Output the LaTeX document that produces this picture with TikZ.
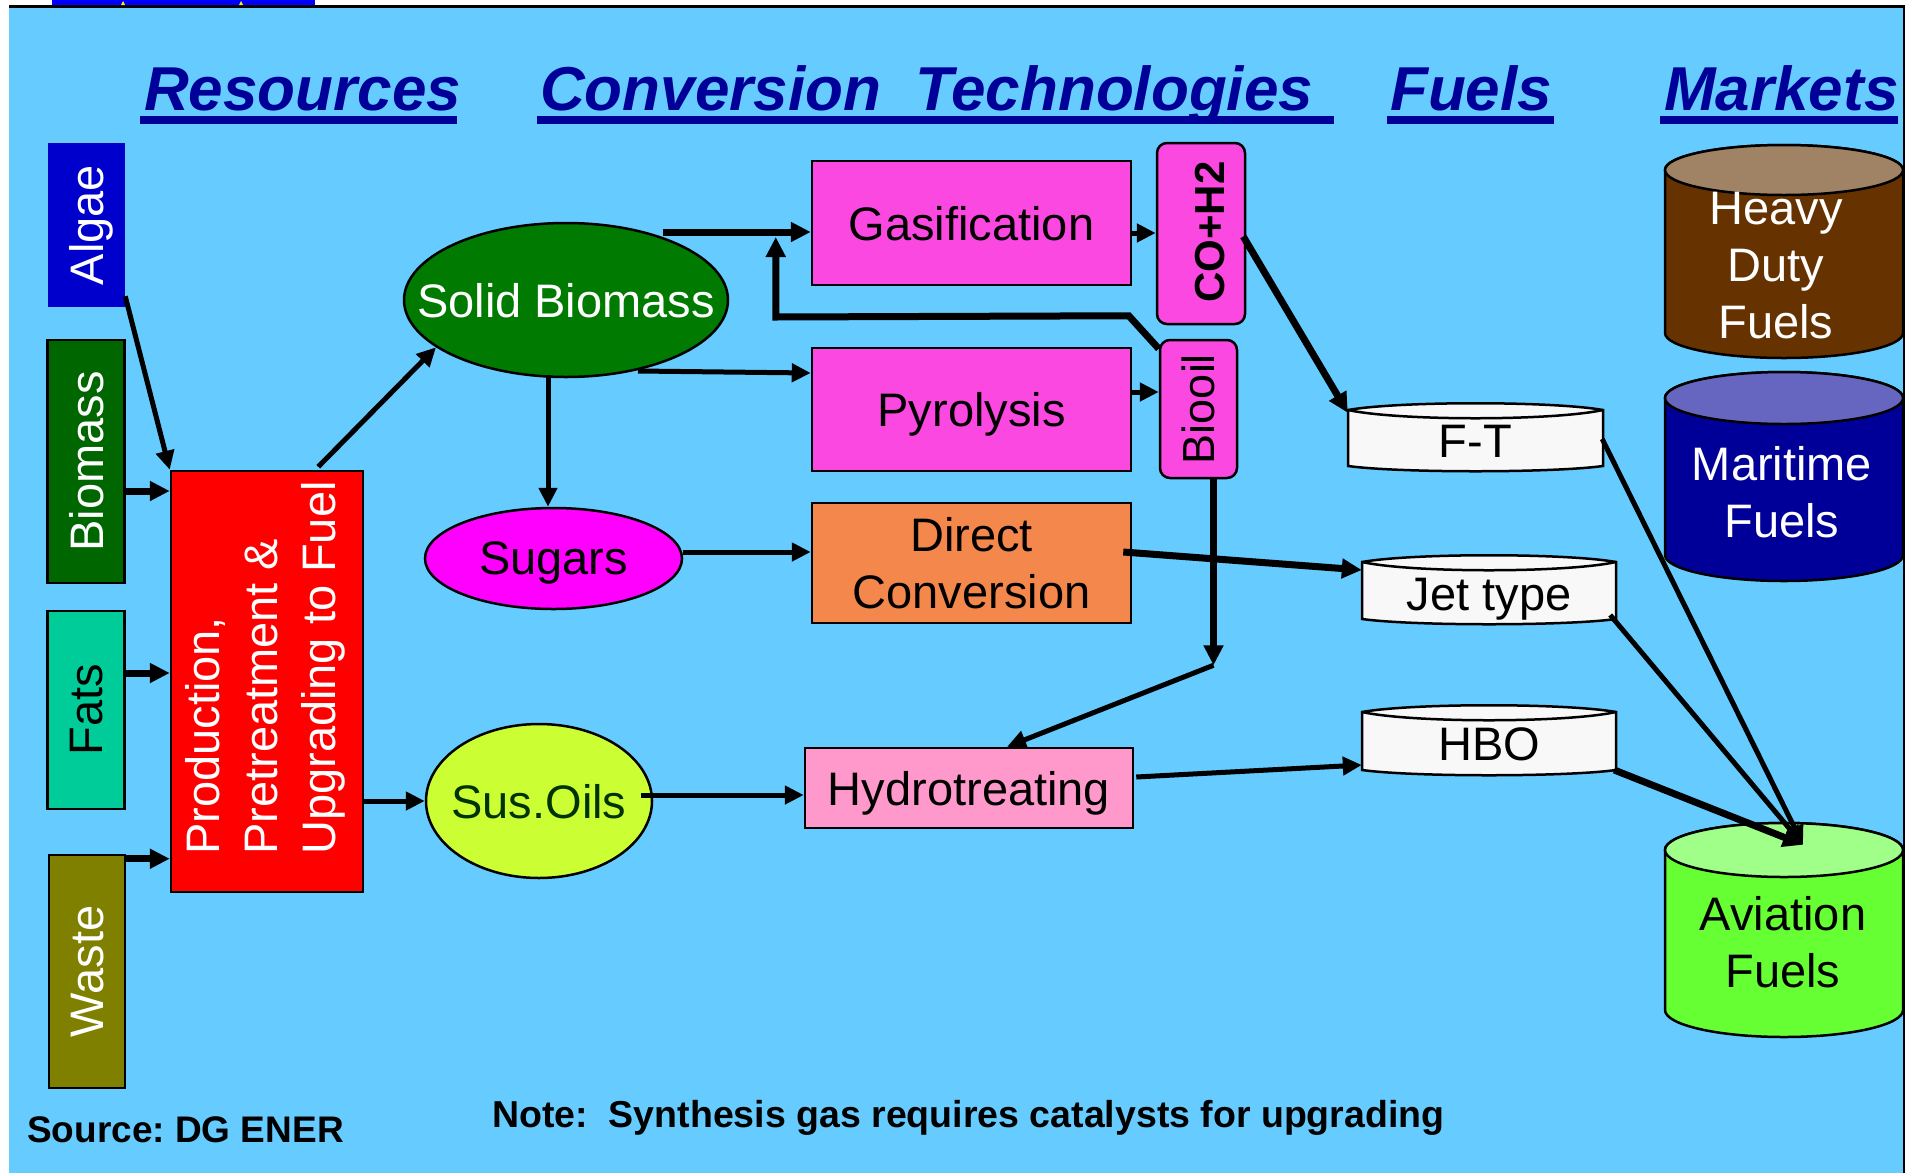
\documentclass[tikz,border=0pt]{standalone}
\usepackage{graphicx}
\usepackage{fontspec}
\setmainfont{Liberation Sans}
\usetikzlibrary{arrows.meta,shapes.geometric,calc}

\definecolor{bg}{HTML}{66CCFF}
\definecolor{hdr}{HTML}{000099}
\definecolor{algaec}{HTML}{0000CC}
\definecolor{biomc}{HTML}{006600}
\definecolor{fatsc}{HTML}{00CC99}
\definecolor{wastec}{HTML}{808000}
\definecolor{sbc}{HTML}{007A00}
\definecolor{sugc}{HTML}{FF00FF}
\definecolor{oilc}{HTML}{CCFF33}
\definecolor{oiltxt}{HTML}{003300}
\definecolor{techc}{HTML}{FA48E0}
\definecolor{dirc}{HTML}{F4874B}
\definecolor{hydc}{HTML}{FF99CC}
\definecolor{diskc}{HTML}{F8F8F8}
\definecolor{hvyb}{HTML}{663300}
\definecolor{hvyt}{HTML}{A08264}
\definecolor{marb}{HTML}{000099}
\definecolor{mart}{HTML}{6666C0}
\definecolor{avb}{HTML}{66FF33}
\definecolor{avt}{HTML}{A0FF88}

\newcommand\fsmain{\fontsize{47pt}{57pt}\selectfont}
\newcommand\nodepth[1]{\raisebox{0pt}[\height][0pt]{#1}}
\newcommand\nowidth[1]{\makebox[0pt]{#1}}

% fuel disk: name, x0, ytop, x1, ybot, text
\newcommand\fueldisk[6]{%
  \pgfmathsetmacro\fdw{#4-#2}
  \path[draw=black, line width=2.5pt, fill=diskc]
    (#2,{-(#3+8)}) .. controls ({#2+0.2*\fdw},{-(#3-1)}) and ({#4-0.2*\fdw},{-(#3-1)}) .. (#4,{-(#3+8)})
    -- (#4,{-(#5-5)}) .. controls ({#4-0.2*\fdw},{-(#5+2)}) and ({#2+0.2*\fdw},{-(#5+2)}) .. (#2,{-(#5-5)}) -- cycle;
  \draw[line width=2.5pt] (#2,{-(#3+8)}) .. controls ({#2+0.2*\fdw},{-(#3+19)}) and ({#4-0.2*\fdw},{-(#3+19)}) .. (#4,{-(#3+8)});
  \node[inner sep=0pt, minimum width=\fdw, minimum height={#5-#3}] (#1) at ({(#2+#4)/2},{-(#3+#5)/2}) {};
  \node[font=\fsmain, text depth=0pt, inner sep=0pt] (#1txt) at ({(#2+#4)/2},{-(#3+#5)/2-5}) {#6};
}

% cylinder: name, x0, x1, ytop, ybot, ry, body, top
\newcommand\fuelcyl[8]{%
  \pgfmathsetmacro\cyrx{(#3-#2)/2}
  \pgfmathsetmacro\cyxm{(#3+#2)/2}
  \path[draw=black, line width=2.5pt, fill=#7]
    (#2,{-(#4+#6)}) -- (#2,{-(#5-#6)})
    arc[start angle=180, end angle=360, x radius=\cyrx, y radius=#6]
    -- (#3,{-(#4+#6)})
    arc[start angle=0, end angle=180, x radius=\cyrx, y radius=#6] -- cycle;
  \path[draw=black, line width=2.5pt, fill=#8] (\cyxm,{-(#4+#6)}) ellipse[x radius=\cyrx, y radius=#6];
  \node[inner sep=0pt, minimum width={#3-#2}, minimum height={#5-#4}] (#1) at (\cyxm,{-(#4+#5)/2}) {};
}

\tikzset{
  box/.style={rectangle, draw=black, line width=2.5pt, inner sep=0pt, font=\fsmain, align=center},
  rbox/.style={box, rounded corners=10pt},
  ell/.style={ellipse, draw=black, line width=2.5pt, inner sep=0pt, font=\fsmain, text depth=0pt},
  arr/.style={line width=5pt, -{Triangle[length=19pt,width=18pt]}},
  arrT/.style={line width=7pt, -{Triangle[length=20pt,width=19pt]}},
  headtxt/.style={font=\fontsize{62pt}{70pt}\selectfont\bfseries\itshape, text=hdr, inner sep=0pt, anchor=base west},
  notetxt/.style={font=\fontsize{37.5pt}{44pt}\selectfont\bfseries, inner sep=0pt, anchor=base west},
}

\begin{document}
\begin{tikzpicture}[x=1pt,y=1pt]
\useasboundingbox (0,0) rectangle (1910,-1173);
\fill[white] (0,0) rectangle (1910,-1173);
\fill[bg] (9,-7) rectangle (1904,-1173);
\draw[line width=3pt] (9,-6) -- (1905,-6);
\draw[line width=2pt] (1904,-6) -- (1904,-1173);
\fill[blue] (52,0) rectangle (315,-5);
\fill[yellow] (121,-5) -- (123,-1) -- (125,-5) -- cycle;
\fill[yellow] (239,-5) -- (241,-1) -- (243,-5) -- cycle;

% headers
\node[headtxt] (hres) at (144,-110) {Resources};
\node[headtxt] (hconv) at (540,-110) {Conversion\ \ Technologies};
\node[headtxt] (hfuel) at (1390,-110) {Fuels};
\node[headtxt] (hmark) at (1664,-110) {Markets};
\fill[hdr] (140,-116) rectangle (457,-124);
\fill[hdr] (537,-116) rectangle (1334,-124);
\fill[hdr] (1387,-116) rectangle (1554,-124);
\fill[hdr] (1660,-116) rectangle (1898,-124);

% resources
\node[box, draw=algaec, fill=algaec, text=white, minimum width=75, minimum height=162] (algae) at (86.5,-225) {\rotatebox{90}{\nodepth{Algae}}};
\node[box, fill=biomc, text=white, minimum width=77, minimum height=243] (biomass) at (86,-461.5) {\rotatebox{90}{\nodepth{Biomass}}};
\node[box, fill=fatsc, text=black, minimum width=77, minimum height=198] (fats) at (86,-710) {\rotatebox{90}{\nodepth{Fats}}};
\node[box, fill=wastec, text=white, minimum width=76, minimum height=233] (waste) at (87,-971.5) {\rotatebox{90}{\nodepth{Waste}}};
\node[box, fill=red, minimum width=192, minimum height=421] (red) at (267,-681.5) {};
\node[inner sep=0pt, text=white, font=\fontsize{47pt}{58pt}\selectfont] (redtxt) at (266,-668)
  {\rotatebox{90}{\begin{tabular}{@{}l@{}}Production,\\Pretreatment \&\\Upgrading to Fuel\end{tabular}}};

% intermediates
\node[ell, fill=sbc, text=white, minimum width=324, minimum height=154] (sb) at (566,-300) {\nowidth{Solid Biomass}};
\node[ell, fill=sugc, text=black, minimum width=257, minimum height=101] (sugars) at (553.5,-558.5) {\nowidth{Sugars}};
\node[ell, fill=oilc, text=oiltxt, minimum width=226, minimum height=154] (susoils) at (539,-801) {\nowidth{Sus.Oils}};

% technologies
\node[box, fill=techc, text depth=0pt, minimum width=319, minimum height=124] (gas) at (971.5,-223) {Gasification};
\node[rbox, fill=techc, minimum width=88, minimum height=181] (coh2) at (1201,-233.5) {};
\node[inner sep=0pt, font=\fontsize{42pt}{50pt}\selectfont\bfseries] (coh2txt) at (1210,-232) {\rotatebox{90}{\nodepth{CO+H2}}};
\node[box, fill=techc, text depth=0pt, minimum width=319, minimum height=123] (pyro) at (971.5,-409.5) {Pyrolysis};
\node[rbox, fill=techc, font=\fontsize{45pt}{54pt}\selectfont, minimum width=77, minimum height=138] (biooil) at (1198.5,-409) {\rotatebox{90}{\nodepth{Biooil}}};
\node[box, fill=dirc, minimum width=319, minimum height=120] (direct) at (971.5,-563) {Direct\\Conversion};
\node[box, fill=hydc, text depth=0pt, minimum width=328, minimum height=80] (hydro) at (969,-788) {Hydrotreating};

% fuels
\fueldisk{ft}{1348}{402}{1603}{471}{F-T}
\fueldisk{jet}{1362}{554}{1616}{624}{Jet type}
\fueldisk{hbo}{1362}{704}{1616}{775}{HBO}

% markets
\fuelcyl{heavy}{1665}{1903}{145}{358}{25}{hvyb}{hvyt}
\fuelcyl{maritime}{1665}{1903}{372}{581}{26}{marb}{mart}
\fuelcyl{aviation}{1665}{1903}{823}{1037}{27}{avb}{avt}
\node[inner sep=0pt, font=\fsmain, align=center, text=white] (heavytxt) at (1776,-266) {Heavy\\Duty\\Fuels};
\node[inner sep=0pt, font=\fsmain, align=center, text=white] (maritimetxt) at (1782,-492) {Maritime\\Fuels};
\node[inner sep=0pt, font=\fsmain, align=center, text=black] (aviationtxt) at (1783,-942) {Aviation\\Fuels};

% connectors: resources -> production
\draw[arr] ($(algae.south east)+(0,11)$) -- (red.north west);
\draw[arrT] ($(biomass.east)+(0,-29.5)$) coordinate (b1) -- (red.west |- b1);
\draw[arrT] ($(fats.east)+(0,37)$) coordinate (f1) -- (red.west |- f1);
\draw[arrT] ($(waste.north east)+(0,-5)$) coordinate (w1) -- (red.west |- w1);

% production -> intermediates
\draw[arr] ($(red.north east)+(-46,3)$) -- (sb.200);
\draw[arr] (red.east |- susoils.west) -- (susoils.west);

% intermediates -> technologies
\draw[arrT] ($(sb.center)+(97,68)$) coordinate (s1) -- (gas.west |- s1);
\draw[arr] ($(sb.center)+(72,-71)$) -- ($(pyro.west)+(0,36.5)$);
\draw[arr] ($(sb.south)+(-18,3)$) coordinate (s2) -- (sugars.north -| s2);
\draw[arr] ($(sugars.east)+(0,6.5)$) coordinate (s3) -- (direct.west |- s3);
\draw[arr] ($(susoils.east)+(-12,6)$) coordinate (o1) -- (hydro.west |- o1);

% feedback from biooil to gasification
\coordinate (fbx) at ($(gas.west)+(-35,-94)$);
\draw[arrT] ($(biooil.north west)+(0,-10)$) -- ++(-30,33) -- (fbx) -- ++(0,80);

% technologies -> products
\draw[arr] ($(gas.east)+(0,-10)$) coordinate (g1) -- (coh2.west |- g1);
\draw[arr] ($(pyro.east)+(0,17.5)$) coordinate (p1) -- (biooil.west |- p1);
\draw[arrT] ($(coh2.east)+(-3,-3)$) -- ($(ft.north west)+(0,-11)$);
\coordinate (bend) at ($(biooil.south)+(15,-186)$);
\draw[arrT] ($(biooil.south)+(15,0)$) -- (bend);
\draw[arr] (bend) -- ($(hydro.north)+(38,0)$);
\draw[arrT] ($(direct.east)+(-9,11)$) -- ($(jet.west)+(0,19)$);
\draw[arr] ($(hydro.east)+(2,11)$) -- ($(hbo.west)+(0,-25.5)$);

% fuels -> aviation
\coordinate (avin) at ($(aviation.north)+(19,-22)$);
\draw[arr] ($(ft.east)+(-1,-2.5)$) -- (avin);
\draw[arr] ($(jet.east)+(-6,-26)$) -- (avin);
\draw[arrT] ($(hbo.east)+(-2,-30.5)$) -- (avin);

% notes
\node[notetxt] (note) at (492,-1127) {Note:\ \ Synthesis gas requires catalysts for upgrading};
\node[notetxt, font=\fontsize{37pt}{44pt}\selectfont\bfseries] (src) at (27,-1142) {Source:\ DG ENER};
\end{tikzpicture}
\end{document}
